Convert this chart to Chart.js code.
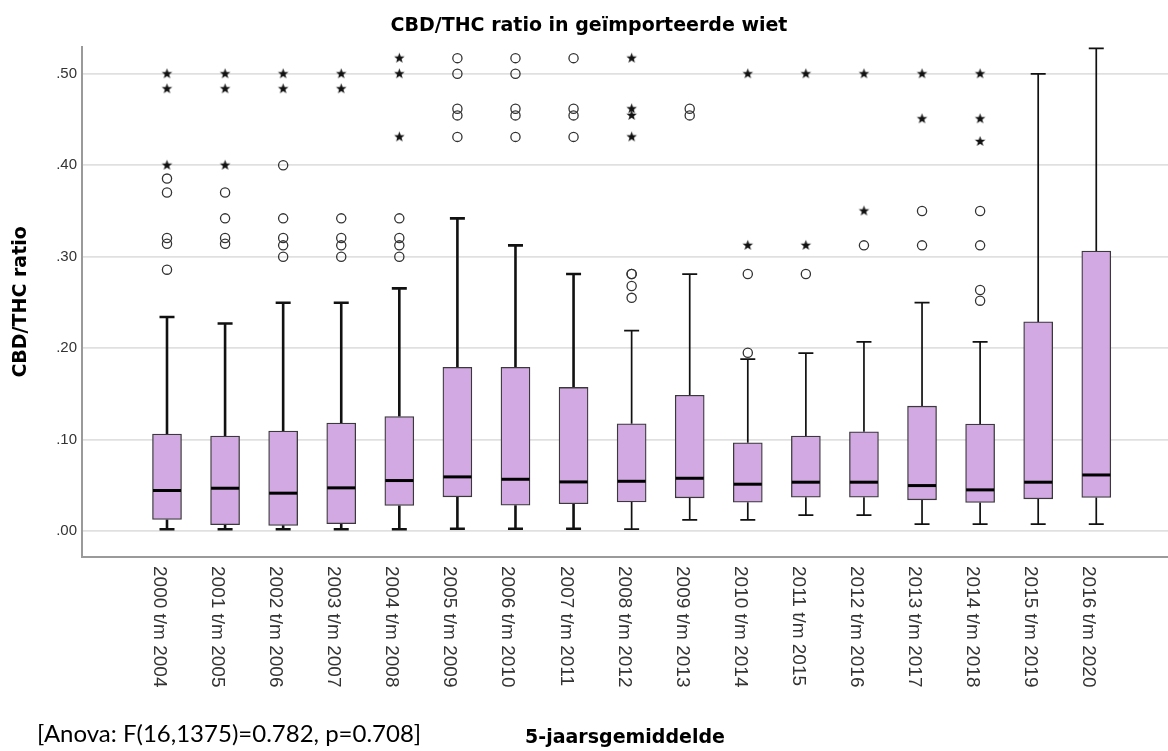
<!DOCTYPE html>
<html lang="nl">
<head>
  <meta charset="UTF-8">
  <title>CBD/THC ratio in geïmporteerde wiet</title>
  <script src="https://cdn.jsdelivr.net/npm/chart.js"></script>
  <style>
    html, body { margin: 0; padding: 0; background: #fff; overflow: hidden; }
    #boxChart { display: block; }
  </style>
</head>
<body>

<canvas id="boxChart" width="1168" height="751"></canvas>

<script>
  // 5-jaarsperiodes
  const categories = [
    "2000 t/m 2004", "2001 t/m 2005", "2002 t/m 2006", "2003 t/m 2007", "2004 t/m 2008",
    "2005 t/m 2009", "2006 t/m 2010", "2007 t/m 2011", "2008 t/m 2012", "2009 t/m 2013",
    "2010 t/m 2014", "2011 t/m 2015", "2012 t/m 2016", "2013 t/m 2017", "2014 t/m 2018",
    "2015 t/m 2019", "2016 t/m 2020"
  ];

  const whiskerLow  = [0.002, 0.002, 0.002, 0.002, 0.002, 0.0025, 0.0025, 0.0025, 0.002, 0.0123, 0.0123, 0.0174, 0.0174, 0.0076, 0.0076, 0.0076, 0.0076];
  const q1          = [0.0127, 0.0069, 0.0062, 0.008, 0.028, 0.0374, 0.0283, 0.0298, 0.0319, 0.0363, 0.0316, 0.037, 0.037, 0.0341, 0.0312, 0.0352, 0.0367];
  const median      = [0.0443, 0.0468, 0.0414, 0.0472, 0.0552, 0.0592, 0.0566, 0.0537, 0.0544, 0.0577, 0.0512, 0.0534, 0.0534, 0.0497, 0.045, 0.0534, 0.0613];
  const q3          = [0.106, 0.1038, 0.1093, 0.118, 0.1252, 0.179, 0.179, 0.157, 0.1172, 0.1485, 0.0965, 0.1038, 0.1085, 0.1365, 0.1169, 0.2287, 0.3062];
  const whiskerHigh = [0.234, 0.2269, 0.2497, 0.2497, 0.2653, 0.3419, 0.3124, 0.281, 0.2192, 0.281, 0.188, 0.1946, 0.2069, 0.2497, 0.2069, 0.50, 0.5277];

  // uitschieters (cirkels) en extremen (sterren) per periode
  const outliers = [
    [0.3854, 0.3701, 0.3204, 0.3142, 0.2858],
    [0.3701, 0.3419, 0.3204, 0.3142],
    [0.40, 0.3419, 0.3204, 0.3124, 0.30],
    [0.3419, 0.3204, 0.3124, 0.30],
    [0.3419, 0.3204, 0.3124, 0.30],
    [0.5171, 0.50, 0.4617, 0.4545, 0.431],
    [0.5171, 0.50, 0.4617, 0.4545, 0.431],
    [0.5171, 0.4617, 0.4545, 0.431],
    [0.281, 0.281, 0.268, 0.255],
    [0.4617, 0.4545],
    [0.281, 0.195],
    [0.281],
    [0.3124],
    [0.35, 0.3124],
    [0.35, 0.3124, 0.2635, 0.2519],
    [],
    []
  ];
  const extremes = [
    [0.50, 0.4836, 0.40],
    [0.50, 0.4836, 0.40],
    [0.50, 0.4836],
    [0.50, 0.4836],
    [0.5171, 0.50, 0.431],
    [],
    [],
    [],
    [0.5171, 0.4617, 0.4545, 0.431],
    [],
    [0.50, 0.3124],
    [0.50, 0.3124],
    [0.50, 0.35],
    [0.50, 0.4508],
    [0.50, 0.4508, 0.426],
    [],
    []
  ];

  const yTickValues = [0, 0.1, 0.2, 0.3, 0.4, 0.5];
  const yTickLabels = [".00", ".10", ".20", ".30", ".40", ".50"];
  const anovaText = "[Anova: F(16,1375)=0.782, p=0.708]";

  const boldFont = { family: "'DejaVu Sans', sans-serif", weight: "bold", size: 19 };

  // gevulde ster als puntstijl
  function makeStar(r) {
    const c = document.createElement("canvas");
    c.width = c.height = Math.ceil(r * 2 + 2);
    const g = c.getContext("2d");
    const cx = c.width / 2, cy = c.height / 2;
    g.beginPath();
    for (let k = 0; k < 10; k++) {
      const rad = k % 2 === 0 ? r : r * 0.42;
      const a = -Math.PI / 2 + k * Math.PI / 5;
      g.lineTo(cx + rad * Math.cos(a), cy + rad * Math.sin(a));
    }
    g.closePath();
    g.fillStyle = "#111";
    g.fill();
    return c;
  }

  const boxData = categories.map((c, i) => ({ x: i, y: [q1[i], q3[i]] }));
  const circlePoints = [];
  outliers.forEach((vals, i) => vals.forEach(v => circlePoints.push({ x: i, y: v })));
  const starPoints = [];
  extremes.forEach((vals, i) => vals.forEach(v => starPoints.push({ x: i, y: v })));

  // snorharen, kapjes en medianen
  const boxLines = {
    id: "boxLines",
    beforeDatasetsDraw(chart) {
      const { ctx, scales: { x, y } } = chart;
      ctx.save();
      ctx.strokeStyle = "#111";
      categories.forEach((c, i) => {
        const px = x.getPixelForValue(i);
        ctx.lineWidth = i < 8 ? 2.6 : 1.7;
        ctx.beginPath();
        ctx.moveTo(px, y.getPixelForValue(whiskerHigh[i]));
        ctx.lineTo(px, y.getPixelForValue(q3[i]));
        ctx.moveTo(px, y.getPixelForValue(q1[i]));
        ctx.lineTo(px, y.getPixelForValue(whiskerLow[i]));
        [whiskerHigh[i], whiskerLow[i]].forEach(v => {
          const py = y.getPixelForValue(v);
          ctx.moveTo(px - 7.5, py);
          ctx.lineTo(px + 7.5, py);
        });
        ctx.stroke();
      });
      ctx.restore();
    },
    afterDatasetsDraw(chart) {
      const { ctx, scales: { x, y } } = chart;
      ctx.save();
      ctx.strokeStyle = "#000";
      ctx.lineWidth = 3;
      categories.forEach((c, i) => {
        const px = x.getPixelForValue(i);
        const py = y.getPixelForValue(median[i]);
        ctx.beginPath();
        ctx.moveTo(px - 14, py);
        ctx.lineTo(px + 14, py);
        ctx.stroke();
      });
      ctx.restore();
    }
  };

  // verticale categorielabels + anova-regel
  const xLabels = {
    id: "xLabels",
    afterDraw(chart) {
      const { ctx, scales: { x } } = chart;
      ctx.save();
      ctx.font = "19px 'Liberation Sans', Arial, sans-serif";
      ctx.fillStyle = "#333";
      ctx.textAlign = "left";
      ctx.textBaseline = "alphabetic";
      categories.forEach((label, i) => {
        ctx.save();
        ctx.translate(x.getPixelForValue(i), x.top + 9);
        ctx.rotate(Math.PI / 2);
        ctx.fillText(label, 0, 13);
        ctx.restore();
      });
      ctx.font = "24px Lato, 'Open Sans', sans-serif";
      ctx.fillStyle = "#000";
      ctx.fillText(anovaText, 37, 742);
      ctx.restore();
    }
  };

  new Chart(document.getElementById("boxChart"), {
    type: "bar",
    data: {
      datasets: [
        {
          type: "bar",
          data: boxData,
          backgroundColor: "#D3A9E3",
          borderColor: "#3a3a3a",
          borderWidth: 1.3,
          borderSkipped: false,
          barThickness: 29
        },
        {
          type: "scatter",
          data: circlePoints,
          pointStyle: "circle",
          pointRadius: 4.6,
          pointBackgroundColor: "rgba(0,0,0,0)",
          pointBorderColor: "#333",
          pointBorderWidth: 1.3
        },
        {
          type: "scatter",
          data: starPoints,
          pointStyle: makeStar(5.5)
        }
      ]
    },
    options: {
      responsive: false,
      animation: false,
      devicePixelRatio: 1,
      layout: { autoPadding: false, padding: { left: 10, right: 0, top: 0, bottom: 0 } },
      plugins: {
        legend: { display: false },
        tooltip: { enabled: false },
        title: {
          display: true,
          text: "CBD/THC ratio in geïmporteerde wiet",
          font: boldFont,
          color: "#000",
          padding: { top: 15, bottom: 9 }
        }
      },
      scales: {
        x: {
          type: "linear",
          offset: false,
          min: -1.4635,
          max: 17.235,
          ticks: { display: false },
          grid: { display: false, drawTicks: false },
          border: { display: true, color: "#9a9a9a", width: 2 },
          afterFit: s => { s.height = 194; },
          title: {
            display: true,
            text: "5-jaarsgemiddelde",
            font: boldFont,
            color: "#000",
            padding: { top: 0, bottom: 2 }
          }
        },
        y: {
          min: -0.0284,
          max: 0.5295,
          afterBuildTicks: s => { s.ticks = yTickValues.map(v => ({ value: v })); },
          afterFit: s => { s.width = 72; },
          ticks: {
            callback: (v, i) => yTickLabels[i],
            font: { family: "'Liberation Sans', Arial, sans-serif", size: 15 },
            color: "#333",
            padding: 5
          },
          grid: { color: "#e0e0e0", lineWidth: 1.8, drawTicks: false },
          border: { display: true, color: "#9a9a9a", width: 2 },
          title: {
            display: true,
            text: "CBD/THC ratio",
            font: boldFont,
            color: "#000",
            padding: { top: 0, bottom: 0 }
          }
        }
      }
    },
    plugins: [boxLines, xLabels]
  });
</script>

</body>
</html>
